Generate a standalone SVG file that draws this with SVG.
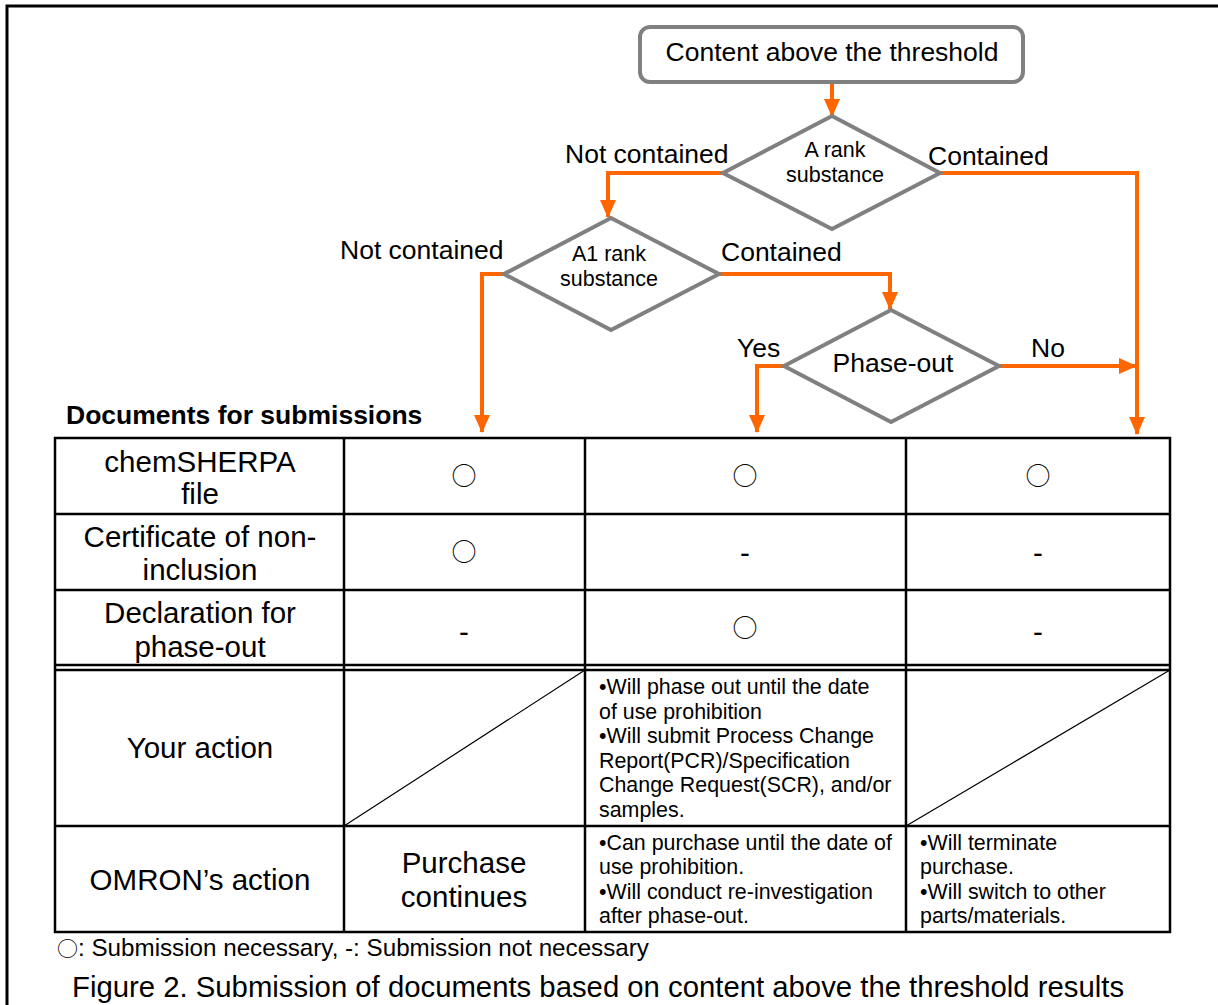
<svg xmlns="http://www.w3.org/2000/svg" width="1218" height="1005" viewBox="0 0 1218 1005">
<defs>
<style>
text{font-family:"Liberation Sans",Arial,sans-serif;fill:#000}
.node{fill:#fff;stroke:#808080;stroke-width:4}
.conn{fill:none;stroke:#FF6600;stroke-width:4}
.lbl{font-size:26.5px}
.dlbl{font-size:21.5px;text-anchor:middle}
.tl{font-size:29.5px;text-anchor:middle}
.sm{font-size:21.4px}
.sym{font-family:"Noto Sans CJK JP","DejaVu Sans",sans-serif;font-size:25px;text-anchor:middle}
.grid{stroke:#000;stroke-width:2.5;fill:none}
.diag{stroke:#000;stroke-width:1.2}
</style>
<marker id="ah" markerUnits="userSpaceOnUse" markerWidth="18" markerHeight="18" viewBox="0 0 18 18" refX="17" refY="9" orient="auto">
<path d="M0,1 L18,9 L0,17 Z" fill="#FF6600"/>
</marker>
</defs>
<rect width="1218" height="1005" fill="#fff"/>
<path d="M7,1005 V6 H1218" fill="none" stroke="#000" stroke-width="3"/>

<g id="connectors">
<path class="conn" d="M832,83 V116" marker-end="url(#ah)"/>
<path class="conn" d="M723,173 H608 V217" marker-end="url(#ah)"/>
<path class="conn" d="M940,173 H1137 V434" marker-end="url(#ah)"/>
<path class="conn" d="M504,274 H482 V432" marker-end="url(#ah)"/>
<path class="conn" d="M719,274 H890 V309" marker-end="url(#ah)"/>
<path class="conn" d="M784,366 H757 V432" marker-end="url(#ah)"/>
<path class="conn" d="M999,366 H1136" marker-end="url(#ah)"/>
<text class="lbl" x="565" y="163">Not contained</text>
<text class="lbl" x="928" y="165">Contained</text>
<text class="lbl" x="340" y="259">Not contained</text>
<text class="lbl" x="721" y="261">Contained</text>
<text class="lbl" x="737" y="357">Yes</text>
<text class="lbl" x="1031" y="357">No</text>
</g>

<g id="start">
<rect class="node" x="640" y="27" width="383" height="55" rx="10"/>
<text class="lbl" x="832" y="61" text-anchor="middle">Content above the threshold</text>
</g>
<g id="decision-a">
<polygon class="node" points="832,116 940,173 832,229 723,173"/>
<text class="dlbl" x="835" y="157">A rank</text>
<text class="dlbl" x="835" y="182">substance</text>
</g>
<g id="decision-a1">
<polygon class="node" points="611,218 719,274 611,330 504,274"/>
<text class="dlbl" x="609" y="261">A1 rank</text>
<text class="dlbl" x="609" y="286">substance</text>
</g>
<g id="decision-phase">
<polygon class="node" points="891,310 999,366 891,422 784,366"/>
<text class="lbl" x="893" y="372" text-anchor="middle">Phase-out</text>
</g>

<g id="table">
<text x="66" y="424" style="font-size:26.5px;font-weight:bold">Documents for submissions</text>
<rect class="grid" x="55" y="438" width="1115" height="494"/>
<path class="grid" d="M55,514 H1170 M55,590 H1170 M55,665 H1170 M55,670 H1170 M55,826 H1170 M344,438 V932 M585,438 V932 M906,438 V932"/>
<path class="diag" d="M344,826 L585,670 M906,826 L1170,670"/>

<text class="tl" x="200" y="472">chemSHERPA</text>
<text class="tl" x="200" y="504">file</text>
<text class="tl" x="200" y="547">Certificate of non-</text>
<text class="tl" x="200" y="580">inclusion</text>
<text class="tl" x="200" y="623">Declaration for</text>
<text class="tl" x="200" y="657">phase-out</text>
<text class="tl" x="200" y="758">Your action</text>
<text class="tl" x="200" y="890">OMRON’s action</text>

<text class="sym" x="464" y="485">○</text>
<text class="sym" x="745" y="485">○</text>
<text class="sym" x="1038" y="485">○</text>
<text class="sym" x="464" y="561">○</text>
<text class="tl" x="745" y="563">-</text>
<text class="tl" x="1038" y="563">-</text>
<text class="tl" x="464" y="642">-</text>
<text class="sym" x="745" y="637">○</text>
<text class="tl" x="1038" y="642">-</text>

<text class="sm" x="599" y="694">•Will phase out until the date</text>
<text class="sm" x="599" y="719">of use prohibition</text>
<text class="sm" x="599" y="743">•Will submit Process Change</text>
<text class="sm" x="599" y="768">Report(PCR)/Specification</text>
<text class="sm" x="599" y="792">Change Request(SCR), and/or</text>
<text class="sm" x="599" y="817">samples.</text>

<text class="tl" x="464" y="873">Purchase</text>
<text class="tl" x="464" y="907">continues</text>

<text class="sm" x="599" y="850">•Can purchase until the date of</text>
<text class="sm" x="599" y="874">use prohibition.</text>
<text class="sm" x="599" y="899">•Will conduct re-investigation</text>
<text class="sm" x="599" y="923">after phase-out.</text>

<text class="sm" x="920" y="850">•Will terminate</text>
<text class="sm" x="920" y="874">purchase.</text>
<text class="sm" x="920" y="899">•Will switch to other</text>
<text class="sm" x="920" y="923">parts/materials.</text>
</g>

<g id="legend">
<text x="57" y="956" style="font-size:24.2px"><tspan style="font-family:'Noto Sans CJK JP','DejaVu Sans',sans-serif;font-size:21px">○</tspan>: Submission necessary, -: Submission not necessary</text>
<text x="72" y="997" style="font-size:29.3px">Figure 2. Submission of documents based on content above the threshold results</text>
</g>
</svg>
